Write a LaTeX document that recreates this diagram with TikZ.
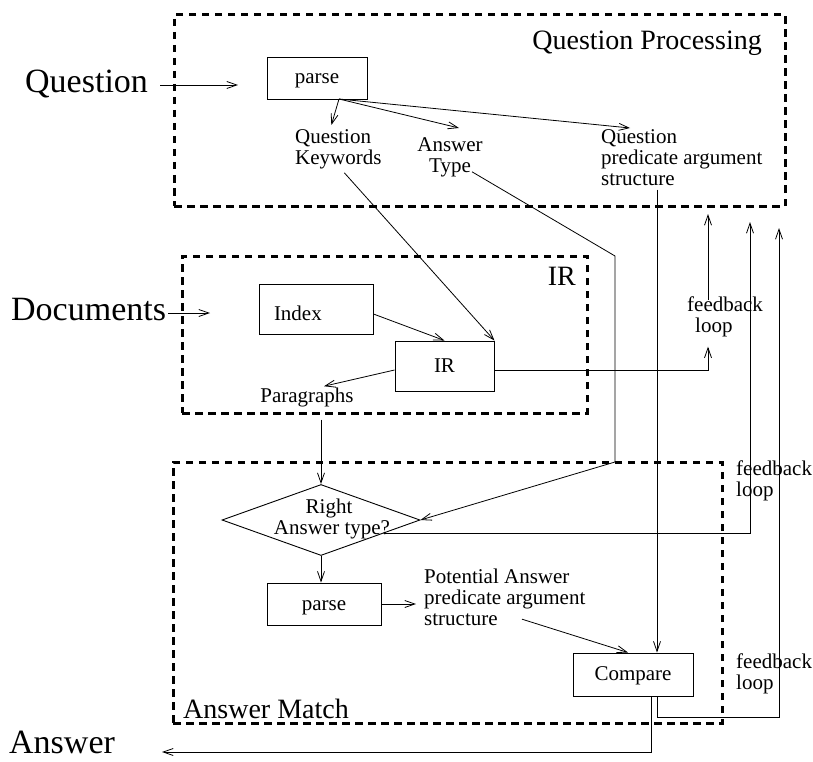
\documentclass[tikz,border=0pt]{standalone}
\usepackage{fontspec}
\setmainfont{Liberation Serif}
\usetikzlibrary{arrows.meta,shapes.geometric,calc}
\begin{document}
\begin{tikzpicture}[x=1pt,y=-1pt,
  dbox/.style={draw, line width=3pt, dash pattern=on 7.5pt off 5.5pt, inner sep=0},
  box/.style={draw, line width=0.9pt, inner sep=0, text height=15pt, text depth=3pt, font=\fontsize{21}{21}\selectfont},
  arr/.style={line width=0.8pt, -{Straight Barb[length=10pt,width=7pt,line width=0.8pt]}},
  big/.style={font=\fontsize{34}{34}\selectfont, inner sep=0},
  mid/.style={font=\fontsize{28}{28}\selectfont, inner sep=0},
  sm/.style={font=\fontsize{21}{21}\selectfont, inner sep=0, align=left}]
\useasboundingbox (0,0) rectangle (813,762);
% containers
\node[dbox, minimum width=611pt, minimum height=191pt] (qp) at (479.5,110.5) {};
\node[dbox, minimum width=405pt, minimum height=157pt] (irbox) at (384.5,334.5) {};
\node[dbox, minimum width=549pt, minimum height=261pt] (am) at (447.5,592.5) {};
\node[mid, anchor=base east] (qpl) at (762,50) {Question Processing};
\node[mid, anchor=base east] (irl) at (576,285) {IR};
\node[mid, anchor=base west] (aml) at (183,718) {Answer Match};
% outer labels
\node[big, anchor=base west] (qtext) at (25,93) {Question};
\node[big, anchor=base west] (dtext) at (11,320) {Documents};
\node[big, anchor=base west] (atext) at (9,753) {Answer};
% question processing
\node[box, minimum width=100pt, minimum height=42pt] (p1) at (317,78) {parse};
\node[sm, anchor=north west] (kw) at (295,129) {Question\\Keywords};
\node[sm, align=center, anchor=north] (at) at (450,137) {Answer\\Type};
\node[sm, anchor=north west] (qpas) at (601,129) {Question\\predicate argument\\structure};
% IR
\node[box, minimum width=114pt, minimum height=50pt, text width=84pt, align=left, text height=22pt, text depth=0pt] (idx) at (316,309) {Index};
\node[box, minimum width=99pt, minimum height=50pt] (irn) at (444.5,366) {IR};
\node[sm, anchor=base] (para) at (307,402) {Paragraphs};
\node[sm, anchor=north west] (fb1) at (687,297) {feedback\\\hspace*{8pt}loop};
\node[sm, anchor=north west] (fb2) at (736,461) {feedback\\loop};
\node[sm, anchor=north west] (fb3) at (736,654) {feedback\\loop};
% answer match
\node[draw, diamond, line width=0.9pt, inner sep=0, minimum width=198pt, minimum height=71pt] (dia) at (321,520) {};
\node[sm, align=center] (diat) at (329,519) {Right\\\hspace*{6pt}Answer type?};
\node[box, minimum width=114pt, minimum height=42pt] (p2) at (324,604) {parse};
\node[sm, anchor=north west] (pot) at (424,569) {Potential Answer\\predicate argument\\structure};
\node[box, minimum width=120pt, minimum height=43pt] (cmp) at (633,674.5) {Compare};
% coordinates
\coordinate (qin) at (238,85);
\coordinate (din) at (210,313);
\coordinate (p1o) at (339,99);
\coordinate (tb1) at (615,256);
\coordinate (tb2) at (615,462);
\coordinate (fb1top) at (708,214);
\coordinate (fb2top) at (750,222);
\coordinate (fb3top) at (779,228);
\coordinate (fb3b) at (779,717);
\coordinate (aout) at (162,752);
\coordinate (qd) at ($(qpas.south west)+(56,4)$);
% connectors
\draw[arr] ($(qtext.east |- qin)+(12,0)$) -- (qin);
\draw[arr] ($(dtext.east |- din)+(2,0)$) -- (din);
\draw[arr] (p1o) -- ($(kw.north)+(-7,-4)$);
\draw[arr] (p1o) -- ($(at.north)+(9,-9)$);
\draw[arr] (p1o) -- ($(qpas.north west)+(29,-1)$);
\draw[arr] ($(kw.south)+(6,4)$) -- (irn.north east);
\draw[arr] ($(at.south)+(22,-5)$) -- (tb1) -- (tb2) -- (dia.east);
\draw[arr] (qd) -- (qd |- cmp.north);
\draw[arr] ($(idx.east)+(0,5)$) -- (irn.north);
\draw[arr] ($(irn.west)+(0,4)$) -- ($(para.north)+(17,-1)$);
\draw[arr] ($(irn.east)+(0,4)$) -| ($(fb1.south west)+(21,9)$);
\draw[arr] ($(fb1.north west)+(21,3)$) -- (fb1top);
\draw[arr] ($(para.south)+(14,13)$) -- (dia.north);
\draw[arr] ($(dia.east)!0.37!(dia.south)$) -| (fb2top);
\draw[arr] (dia.south) -- (dia.south |- p2.north);
\draw[arr] (p2.east) -- ($(pot.west |- p2.east)+(-8,0)$);
\draw[arr] ($(pot.south west)+(98,-7)$) -- ($(cmp.north)+(-5,0)$);
\draw[arr] ($(cmp.south)+(24,0)$) |- (fb3b) -- (fb3top);
\draw[arr] ($(cmp.south)+(18,0)$) |- (aout);
\end{tikzpicture}
\end{document}
